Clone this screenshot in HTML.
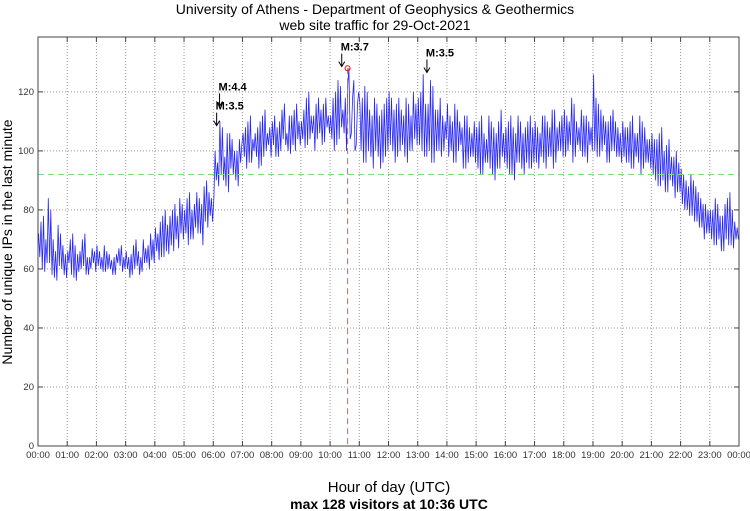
<!DOCTYPE html>
<html><head><meta charset="utf-8"><style>
body{margin:0;background:#fff;}
svg{display:block;font-family:"Liberation Sans",sans-serif;}
</style></head><body>
<svg id="chart" width="750" height="511">
<text x="375" y="14" text-anchor="middle" font-size="14">University of Athens - Department of Geophysics &amp; Geothermics</text>
<text x="375" y="30" text-anchor="middle" font-size="14">web site traffic for 29-Oct-2021</text>
<text transform="translate(12,242) rotate(-90)" text-anchor="middle" font-size="14">Number of unique IPs in the last minute</text>
<text x="389" y="492" text-anchor="middle" font-size="15">Hour of day (UTC)</text>
<text x="389" y="509" text-anchor="middle" font-size="14" font-weight="bold">max 128 visitors at 10:36 UTC</text>
<g id="grid"></g><g id="ticks"></g><g id="series"></g><g id="annot"></g>
<rect x="38" y="37" width="701" height="409" fill="none" stroke="#444" stroke-width="1"/>
</svg>
<script>
const hourLabels=["00:00","01:00","02:00","03:00","04:00","05:00","06:00","07:00","08:00","09:00","10:00","11:00","12:00","13:00","14:00","15:00","16:00","17:00","18:00","19:00","20:00","21:00","22:00","23:00","00:00"];
const yTicks=[0,20,40,60,80,100,120];
const visitorsA=[
72,60,78,62,84,58,70,56,75,60,68,57,
66,58,72,56,65,60,70,58,64,60,67,59,
68,60,64,59,66,60,63,58,65,61,68,60,
66,57,65,60,70,58,64,62,67,60,72,62,
74,63,76,64,80,65,78,66,82,67,84,70,
80,68,86,70,82,72,84,68,88,74,86,76,
84,96,88,108,90,106,86,104,92,100,88,102,
106,94,110,96,104,98,108,95,112,100,106,98,
110,98,108,100,114,102,106,99,112,100,116,102,
110,101,118,104,112,100,116,106,114,103,118,106,
112,100,120,104,122,106,118,128,104,124,100,120,
116,96,122,100,114,94,118,98,112,96,116,100,
120,100,114,98,118,102,112,96,116,100,120,102,
118,100,126,98,116,96,122,100,114,98,112,104,
116,100,110,96,114,102,108,94,112,98,106,96,
108,92,112,96,104,94,110,90,106,94,114,96,
108,92,112,90,106,96,110,92,108,94,112,96,
110,94,106,96,112,98,108,94,114,100,110,98,
114,100,110,96,116,102,108,98,112,96,110,100,
126,98,116,100,112,96,110,100,114,98,108,96,
110,96,108,94,112,98,106,92,110,96,104,94,
106,90,104,88,108,86,102,90,98,84,100,86,
94,80,90,78,92,76,88,74,84,70,82,72,
80,68,84,70,78,66,82,68,86,67,76,70];
const visitorsB=[
64,76,59,70,62,80,57,66,61,72,58,65,
62,70,57,68,59,66,61,72,58,64,62,66,
61,66,59,68,60,65,58,64,62,67,59,64,
60,64,58,68,61,66,59,70,62,68,63,70,
66,72,64,78,66,75,68,80,70,78,72,82,
72,84,70,80,74,86,72,82,76,90,78,84,
100,90,110,92,98,88,106,94,100,90,104,96,
98,108,96,112,100,106,94,110,98,114,102,108,
102,112,98,110,104,116,100,112,102,114,104,110,
104,114,102,120,106,112,104,118,102,116,108,112,
104,118,102,124,108,114,100,122,106,118,102,116,
100,118,96,120,98,112,100,116,94,114,98,118,
102,118,96,116,100,114,98,118,100,112,104,116,
102,120,98,116,100,124,96,114,100,118,100,110,
98,112,96,116,100,110,94,112,96,108,98,110,
94,110,92,106,96,112,92,108,94,110,98,106,
94,110,92,108,96,112,94,106,96,110,94,108,
96,108,98,112,94,110,98,114,96,108,100,112,
98,112,102,118,98,110,100,114,98,112,102,108,
100,118,98,114,102,110,96,112,100,110,98,106,
98,108,96,110,94,106,96,112,94,108,96,104,
92,104,88,106,90,100,86,104,88,98,86,96,
82,92,80,88,78,90,76,86,74,82,72,80,
70,80,68,82,66,78,70,84,68,80,70,74];
const avgLevel=92;
const maxMinute=636, maxValue=128;
const quakes=[{m:"M:4.4",min:375,v:120.5},{m:"M:3.5",min:369,v:114},{m:"M:3.7",min:626,v:134},{m:"M:3.5",min:801,v:132}];
const X0=38,X1=739,Y0=446,Y1=37,YMAX=138.6;
const xs=min=>X0+(min/1440)*(X1-X0);
const ys=v=>Y0-(v/YMAX)*(Y0-Y1);
const NS="http://www.w3.org/2000/svg";
function mk(tag,attrs,parent){const e=document.createElementNS(NS,tag);for(const k in attrs)e.setAttribute(k,attrs[k]);document.getElementById(parent).appendChild(e);return e;}
hourLabels.forEach((l,i)=>{const x=xs(i*60);
 if(i>0&&i<24){const g=mk('line',{x1:x,x2:x,y1:Y1,y2:Y0,stroke:'#999','stroke-dasharray':'1,2'},'grid');}
 const t=mk('line',{x1:x,x2:x,y1:Y0,y2:Y0-5,stroke:'#444'},'ticks');
 const t2=mk('line',{x1:x,x2:x,y1:Y1,y2:Y1+5,stroke:'#444'},'ticks');
 const tx=mk('text',{x:x,y:458,'text-anchor':'middle','font-size':'9.5',fill:'#333'},'ticks');tx.textContent=l;});
yTicks.forEach(v=>{const y=ys(v);
 if(v>0){const g=mk('line',{x1:X0,x2:X1,y1:y,y2:y,stroke:'#999','stroke-dasharray':'1,2'},'grid');}
 const t=mk('line',{x1:X0,x2:X0+5,y1:y,y2:y,stroke:'#444'},'ticks');
 const t2=mk('line',{x1:X1-5,x2:X1,y1:y,y2:y,stroke:'#444'},'ticks');
 const tx=mk('text',{x:34,y:y+3,'text-anchor':'end','font-size':'9.5',fill:'#333'},'ticks');tx.textContent=v;});
const merged=[];
visitorsA.forEach((v,i)=>{if(i%2===0){merged.push(v);merged.push(visitorsB[i]);}else{merged.push(visitorsB[i]);merged.push(v);}});
const step=1440/merged.length;
const pts=merged.map((v,i)=>xs(i*step+step/2).toFixed(1)+','+ys(v).toFixed(1)).join(' ');
const pl=mk('polyline',{points:pts,fill:'none',stroke:'#0000ff','stroke-width':'0.8','stroke-opacity':'0.85'},'series');


const av=mk('line',{x1:X0,x2:X1,y1:ys(avgLevel),y2:ys(avgLevel),stroke:'#7de07d','stroke-dasharray':'6,4'},'series');


const mx=mk('line',{x1:xs(maxMinute),x2:xs(maxMinute),y1:ys(maxValue),y2:Y0,stroke:'#b07070','stroke-dasharray':'6,4'},'series');


const mc=mk('circle',{cx:xs(maxMinute),cy:ys(maxValue),r:2.5,fill:'none',stroke:'red'},'series');


quakes.forEach(q=>{const x=xs(q.min),y=ys(q.v);
 const t=mk('text',{x:x-2,y:y,'font-size':'11','font-weight':'bold'},'annot');t.textContent=q.m;
 const a=mk('path',{d:`M${x-1},${y+3}V${y+16}M${x-4},${y+11}L${x-1},${y+16}L${x+2},${y+11}`,fill:'none',stroke:'#000','stroke-width':'1'},'annot');});
</script>
</body></html>
